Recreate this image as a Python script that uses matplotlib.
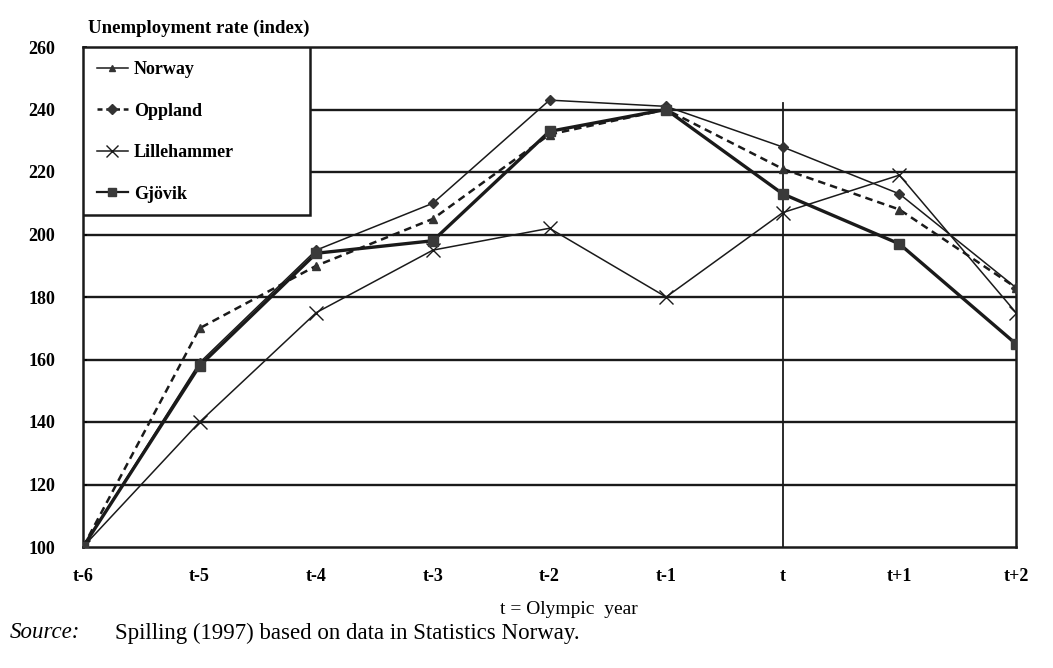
import matplotlib
matplotlib.use("Agg")
import matplotlib.pyplot as plt
from matplotlib.lines import Line2D
from matplotlib.patches import Rectangle

periods = ["t-6", "t-5", "t-4", "t-3", "t-2", "t-1", "t", "t+1", "t+2"]
norway = [100, 159, 195, 210, 243, 241, 228, 213, 183]
oppland = [100, 170, 190, 205, 232, 240, 221, 208, 183]
lillehammer = [100, 140, 175, 195, 202, 180, 207, 219, 175]
gjovik = [100, 158, 194, 198, 233, 240, 213, 197, 165]
yticks = [100, 120, 140, 160, 180, 200, 220, 240, 260]

serif = "Liberation Serif"
W, H = 1053, 668
fig = plt.figure(figsize=(W / 100, H / 100), dpi=100)
ax = fig.add_axes([83 / W, 1 - 547 / H, (1016 - 83) / W, (547 - 47) / H])

x = list(range(len(periods)))
ink = "#1a1a1a"

for yv in yticks[1:-1]:
    ax.axhline(yv, color=ink, lw=1.7, zorder=1)
ax.plot([6, 6], [100, 242], color=ink, lw=1.3, zorder=1)

ax.plot(x, norway, color=ink, lw=1.1, marker="D", ms=5, mfc="#333333", mec="#333333", zorder=3)
ax.plot(x, oppland, color=ink, lw=1.8, ls=(0, (3, 2)), marker="^", ms=6, mfc="#333333", mec="#333333", zorder=3)
ax.plot(x, lillehammer, color=ink, lw=1.1, marker="x", ms=10, mew=1.0, mec=ink, zorder=3)
ax.plot(x, gjovik, color=ink, lw=2.4, marker="s", ms=7, mfc="#3a3a3a", mec="#3a3a3a", zorder=4)

ax.set_xlim(0, 8)
ax.set_ylim(100, 260)
ax.set_yticks(yticks)
ax.set_yticklabels([str(v) for v in yticks], fontfamily=serif, fontweight="bold", fontsize=13)
ax.set_xticks(x)
ax.set_xticklabels(periods, fontfamily=serif, fontweight="bold", fontsize=13)
ax.tick_params(axis="x", length=0, pad=15)
ax.tick_params(axis="y", length=3, direction="in", pad=20, width=1.2)
for s in ax.spines.values():
    s.set_color(ink)
    s.set_linewidth(1.8)

# legend box (manual frame)
bx_w = (310 - 83) / (1016 - 83)
bx_y0 = (547 - 215) / (547 - 47)
ax.add_patch(Rectangle((0, bx_y0), bx_w, 1 - bx_y0, transform=ax.transAxes,
                       facecolor="white", edgecolor=ink, lw=1.8, zorder=5))

handles = [
    Line2D([], [], color=ink, lw=1.1, marker="^", ms=5, mfc="#333333", mec="#333333"),
    Line2D([], [], color=ink, lw=1.8, ls=(0, (2, 1.5)), marker="D", ms=5, mfc="#333333", mec="#333333"),
    Line2D([], [], color=ink, lw=1.1, marker="x", ms=9, mew=1.0, mec=ink),
    Line2D([], [], color=ink, lw=1.6, marker="s", ms=6, mfc="#3a3a3a", mec="#3a3a3a"),
]
labels = ["Norway", "Oppland", "Lillehammer", "Gjövik"]
leg = ax.legend(handles, labels, loc="upper left",
                bbox_to_anchor=(14 / (1016 - 83), 1 - 14 / 500), borderaxespad=0,
                prop={"family": serif, "weight": "bold", "size": 13}, handlelength=1.7,
                handletextpad=0.35, labelspacing=1.36, borderpad=0, frameon=False)
leg.set_zorder(6)

fig.text(88 / W, 1 - 28 / H, "Unemployment rate (index)", fontfamily=serif, fontweight="bold",
         fontsize=13.5, va="center", ha="left")
fig.text(569 / W, 1 - 609 / H, "t = Olympic  year", fontfamily=serif, fontsize=14,
         va="center", ha="center")
fig.text(10 / W, 1 - 633 / H, "Source:", fontfamily=serif, fontstyle="italic", fontsize=16.5,
         va="center", ha="left")
fig.text(115 / W, 1 - 633 / H, "Spilling (1997) based on data in Statistics Norway.",
         fontfamily=serif, fontsize=16.5, va="center", ha="left")

fig.savefig("out.png", dpi=100)
